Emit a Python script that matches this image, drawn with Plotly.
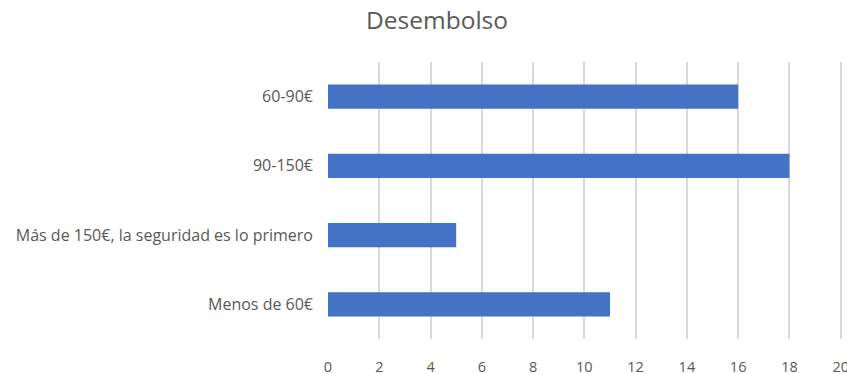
import plotly.graph_objects as go

categories = ["Menos de 60€", "Más de 150€, la seguridad es lo primero", "90-150€", "60-90€"]
values = [11, 5, 18, 16]
x_ticks = [0, 2, 4, 6, 8, 10, 12, 14, 16, 18, 20]

font_family = "Open Sans, sans-serif"
text_color = "#595959"

fig = go.Figure(go.Bar(
    x=values, y=categories, orientation="h",
    marker=dict(color="#4472C4", line=dict(width=0)),
    width=0.35,
))

fig.update_layout(
    width=847, height=374,
    margin=dict(l=328, r=4.7, t=62, b=35, autoexpand=False),
    paper_bgcolor="white", plot_bgcolor="white",
    title=dict(text="Desembolso", x=0.516, xanchor="center", y=0.945, yanchor="middle",
               font=dict(family=font_family, size=24.5, color=text_color)),
    font=dict(family=font_family, size=14.5, color=text_color),
    showlegend=False,
)
fig.update_xaxes(
    range=[0, 20.05], tickvals=x_ticks, showgrid=True, gridcolor="#D9D9D9", gridwidth=1.5,
    zeroline=False, showline=False, ticks="", ticklabelstandoff=17,
    ticklabeloverflow="allow", automargin=False,
    tickfont=dict(size=14.5, color=text_color), fixedrange=True,
)
fig.update_yaxes(
    categoryorder="array", categoryarray=categories, showgrid=False, zeroline=False,
    showline=False, ticks="", ticklabelstandoff=14, automargin=False,
    tickfont=dict(size=16, color=text_color), fixedrange=True,
)

fig.write_html("out.html", config={"displayModeBar": False})
